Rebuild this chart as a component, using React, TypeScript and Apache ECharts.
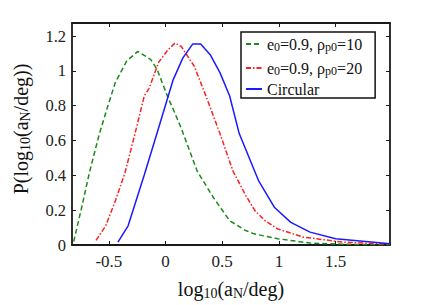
import React, { useEffect, useRef } from "react";
import * as echarts from "echarts";

const greenX = [-0.81, -0.74, -0.67, -0.585, -0.513, -0.443, -0.343, -0.244, -0.13, -0.074, 0.026, 0.068, 0.14, 0.28, 0.423, 0.565, 0.707, 0.78, 0.99, 1.275, 1.6, 1.98];
const greenY = [0.02, 0.215, 0.42, 0.635, 0.79, 0.933, 1.056, 1.112, 1.065, 1.008, 0.84, 0.78, 0.668, 0.423, 0.272, 0.14, 0.083, 0.064, 0.036, 0.011, 0.004, 0.001];

const redX = [-0.613, -0.528, -0.443, -0.358, -0.273, -0.187, -0.145, -0.06, 0.02, 0.083, 0.139, 0.253, 0.366, 0.48, 0.596, 0.707, 0.79, 0.877, 0.99, 1.218, 1.56, 1.98];
const redY = [0.027, 0.11, 0.253, 0.414, 0.63, 0.857, 0.9, 1.05, 1.12, 1.16, 1.14, 1.027, 0.84, 0.64, 0.423, 0.285, 0.196, 0.14, 0.092, 0.045, 0.017, 0.004];

const blueX = [-0.42, -0.33, -0.187, -0.088, 0.068, 0.153, 0.239, 0.31, 0.394, 0.48, 0.565, 0.65, 0.707, 0.82, 0.962, 1.105, 1.275, 1.5, 1.98];
const blueY = [0.017, 0.11, 0.404, 0.615, 0.95, 1.075, 1.154, 1.154, 1.093, 0.99, 0.857, 0.64, 0.55, 0.37, 0.215, 0.13, 0.074, 0.036, 0.007];

const xTicks = [-0.5, 0, 0.5, 1, 1.5];
const yTicks = [0, 0.2, 0.4, 0.6, 0.8, 1, 1.2];
const seriesNames = ["g", "r", "c"];

const FONT = "Liberation Serif";

const zip = (xs: number[], ys: number[]) => xs.map((x, i) => [x, ys[i]]);

export default function App() {
  const ref = useRef<HTMLDivElement>(null);
  useEffect(() => {
    if (!ref.current) return;
    const chart = echarts.init(ref.current, null, { renderer: "svg" });
    const axisLine = { show: true, onZero: false, lineStyle: { color: "#1a1a1a", width: 1.8 } };
    const tick = { show: true, inside: true, length: 4, lineStyle: { color: "#1a1a1a", width: 1 } };
    const legendRich = {
      n: { fontFamily: FONT, fontSize: 16, color: "#111", verticalAlign: "middle", lineHeight: 18 },
      s: { fontFamily: FONT, fontSize: 12, color: "#111", verticalAlign: "bottom", lineHeight: 12, padding: [8, 0, 0, 0] },
    };
    const nameRich = {
      n: { fontFamily: FONT, fontSize: 20, color: "#111", verticalAlign: "middle", lineHeight: 22 },
      s: { fontFamily: FONT, fontSize: 14, color: "#111", verticalAlign: "bottom", lineHeight: 14, padding: [10, 0, 0, 0] },
    };
    const xMin = -0.825, xMax = 1.98, yMin = 0, yMax = 1.275;
    chart.setOption({
      animation: false,
      backgroundColor: "#fff",
      textStyle: { fontFamily: FONT },
      grid: { left: 60, top: 23, right: 41, bottom: 57, containLabel: false },
      xAxis: [
        {
          type: "value", min: xMin, max: xMax, position: "bottom",
          axisLine, axisTick: { ...tick, customValues: xTicks },
          axisLabel: { customValues: xTicks, fontFamily: FONT, fontSize: 17, color: "#222", margin: 8 },
          splitLine: { show: false },
          name: "{n|log}{s|10}{n|(a}{s|N}{n|/deg)}",
          nameLocation: "middle", nameGap: 33,
          nameTextStyle: { rich: nameRich },
        },
        {
          type: "value", min: xMin, max: xMax, position: "top",
          axisLine, axisTick: { ...tick, customValues: xTicks },
          axisLabel: { show: false, customValues: xTicks }, splitLine: { show: false },
        },
      ],
      yAxis: [
        {
          type: "value", min: yMin, max: yMax, position: "left",
          axisLine, axisTick: { ...tick, customValues: yTicks },
          axisLabel: { customValues: yTicks, fontFamily: FONT, fontSize: 16.5, color: "#222", margin: 6 },
          splitLine: { show: false },
          name: "{n|P(log}{s|10}{n|(a}{s|N}{n|/deg))}",
          nameLocation: "middle", nameGap: 40, nameRotate: 90,
          nameTextStyle: { rich: nameRich, padding: [0, 0, 0, 10] },
        },
        {
          type: "value", min: yMin, max: yMax, position: "right",
          axisLine, axisTick: { ...tick, customValues: yTicks },
          axisLabel: { show: false, customValues: yTicks }, splitLine: { show: false },
        },
      ],
      legend: {
        show: true,
        orient: "vertical",
        left: 241, top: 32,
        padding: [1, 13, 1, 4],
        itemGap: 4,
        itemWidth: 16, itemHeight: 10,
        backgroundColor: "#fff",
        borderColor: "#111", borderWidth: 1.5, borderRadius: 0,
        data: seriesNames,
        itemStyle: { opacity: 0 },
        formatter: (name: string) =>
          name === "g" ? "{n|e}{s|0}{n|=0.9, ρ}{s|p0}{n|=10}"
            : name === "r" ? "{n|e}{s|0}{n|=0.9, ρ}{s|p0}{n|=20}"
              : "{n|Circular}",
        textStyle: { fontFamily: FONT, fontSize: 16, rich: legendRich },
      },
      series: [
        {
          name: "g", type: "line", xAxisIndex: 0, yAxisIndex: 0, symbol: "none",
          data: zip(greenX, greenY),
          lineStyle: { color: "#1a8a1a", width: 1.5, type: [5, 3] },
          itemStyle: { color: "#1a8a1a" },
        },
        {
          name: "r", type: "line", xAxisIndex: 0, yAxisIndex: 0, symbol: "none",
          data: zip(redX, redY),
          lineStyle: { color: "#ff2020", width: 1.5, type: [5, 2, 1.5, 2] },
          itemStyle: { color: "#ff2020" },
        },
        {
          name: "c", type: "line", xAxisIndex: 0, yAxisIndex: 0, symbol: "none",
          data: zip(blueX, blueY),
          lineStyle: { color: "#1a1aff", width: 1.5 },
          itemStyle: { color: "#1a1aff" },
        },
      ],
    });
    return () => chart.dispose();
  }, []);
  return <div ref={ref} style={{ width: 431, height: 305, position: "absolute", left: 0, top: 0 }} />;
}
